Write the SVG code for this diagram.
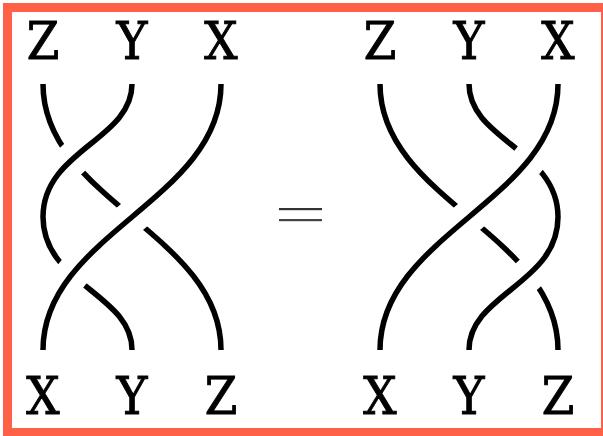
<svg xmlns="http://www.w3.org/2000/svg" xmlns:xlink="http://www.w3.org/1999/xlink" width="603" height="436" viewBox="0 0 603 436">
<style>
.lbl{font-family:"DejaVu Serif Condensed","DejaVu Serif","Liberation Serif",serif;font-stretch:condensed;font-size:52px;fill:#000;stroke:#000;stroke-width:0.9;text-anchor:middle}
.s{fill:none;stroke:#000;stroke-width:5.5;stroke-linecap:butt}
.w{fill:none;stroke:#fff;stroke-width:34;stroke-linecap:butt}
</style>
<defs>
<g id="braid">
<path id="strandZ" class="s" d="M43,84 C43,200 221,234 221,350"/>
<path class="w" d="M132,84 C132,140 43,150 43,217 C43,284 132,294 132,350"/>
<path id="strandY" class="s" d="M132,84 C132,140 43,150 43,217 C43,284 132,294 132,350"/>
<path class="w" d="M221,84 C221,200 43,234 43,350"/>
<path id="strandX" class="s" d="M221,84 C221,200 43,234 43,350"/>
</g>
</defs>
<rect x="3" y="3" width="600" height="433" fill="#fe6148"/>
<rect x="12" y="12" width="589" height="416" fill="#fff"/>
<g id="connectors">
<use xlink:href="#braid"/>
<use xlink:href="#braid" transform="translate(601,434) rotate(180)"/>
</g>
<g id="equals">
<rect x="279" y="208" width="43" height="2.2" fill="#333"/>
<rect x="279" y="219" width="43" height="2.2" fill="#444"/>
</g>
<g id="labels-left-top">
<text class="lbl" x="43" y="59">Z</text>
<text class="lbl" x="132" y="59">Y</text>
<text class="lbl" x="221" y="59">X</text>
</g>
<g id="labels-left-bottom">
<text class="lbl" x="43" y="414">X</text>
<text class="lbl" x="132" y="414">Y</text>
<text class="lbl" x="221" y="414">Z</text>
</g>
<g id="labels-right-top">
<text class="lbl" x="380" y="59">Z</text>
<text class="lbl" x="469" y="59">Y</text>
<text class="lbl" x="558" y="59">X</text>
</g>
<g id="labels-right-bottom">
<text class="lbl" x="380" y="414">X</text>
<text class="lbl" x="469" y="414">Y</text>
<text class="lbl" x="558" y="414">Z</text>
</g>
</svg>
